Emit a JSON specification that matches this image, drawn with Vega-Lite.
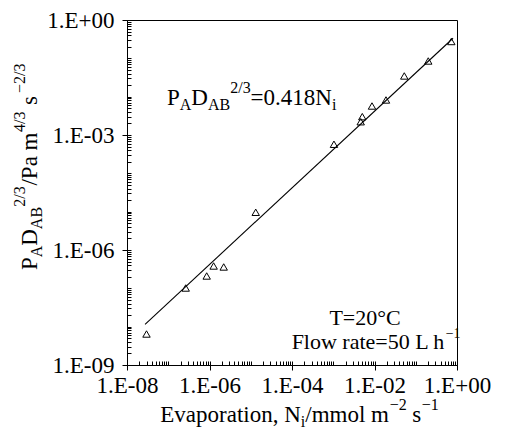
{
  "$schema": "https://vega.github.io/schema/vega-lite/v6.json",
  "width": 330,
  "height": 345,
  "autosize": {"type": "none"},
  "padding": {"left": 127, "top": 20, "right": 55, "bottom": 69},
  "background": "white",
  "config": {
    "view": {"stroke": "black", "strokeWidth": 1},
    "text": {"font": "Liberation Serif", "color": "black", "align": "left", "baseline": "alphabetic", "clip": false}
  },
  "datasets": {
    "points": [
      {"x": 2.97e-8, "y": 6.44e-9},
      {"x": 2.65e-7, "y": 1.02e-7},
      {"x": 8.55e-7, "y": 2.10e-7},
      {"x": 1.26e-6, "y": 3.83e-7},
      {"x": 2.21e-6, "y": 3.61e-7},
      {"x": 1.32e-5, "y": 9.64e-6},
      {"x": 1.04e-3, "y": 5.73e-4},
      {"x": 4.63e-3, "y": 2.22e-3},
      {"x": 5.06e-3, "y": 3.01e-3},
      {"x": 8.69e-3, "y": 5.71e-3},
      {"x": 1.90e-2, "y": 8.20e-3},
      {"x": 5.27e-2, "y": 3.47e-2},
      {"x": 0.201, "y": 8.53e-2},
      {"x": 0.728, "y": 0.275}
    ],
    "fit": [
      {"x": 2.74e-8, "y": 1.145e-8},
      {"x": 0.80, "y": 0.334}
    ],
    "ann": [
      {"id": "yt", "x": 6.7e-11, "y": 3.0e-7},
      {"id": "xt", "x": 6.4e-8, "y": 3.26e-11},
      {"id": "eq", "x": 9.33e-8, "y": 6.07e-3},
      {"id": "T", "x": 5.9e-3, "y": 1.11e-8},
      {"id": "flow", "x": 9.8e-5, "y": 2.61e-9}
    ]
  },
  "encoding": {
    "x": {"field": "x", "type": "quantitative", "scale": {"type": "log", "domain": [1e-8, 1], "nice": false}, "axis": null},
    "y": {"field": "y", "type": "quantitative", "scale": {"type": "log", "domain": [1e-9, 1], "nice": false}, "axis": null}
  },
  "layer": [
    {
      "data": {"name": "fit"},
      "mark": {"type": "line", "color": "black", "strokeWidth": 1.1},
      "encoding": {
        "x": {"field": "x", "type": "quantitative", "scale": {"type": "log", "domain": [1e-8, 1], "nice": false},
          "axis": {"orient": "bottom", "values": [1e-8,2e-8,3e-8,4e-8,5e-8,6e-8,7e-8,8e-8,9e-8,1e-7,2e-7,3e-7,4e-7,5e-7,6e-7,7e-7,8e-7,9e-7,1e-6,2e-6,3e-6,4e-6,5e-6,6e-6,7e-6,8e-6,9e-6,1e-5,2e-5,3e-5,4e-5,5e-5,6e-5,7e-5,8e-5,9e-5,1e-4,2e-4,3e-4,4e-4,5e-4,6e-4,7e-4,8e-4,9e-4,1e-3,2e-3,3e-3,4e-3,5e-3,6e-3,7e-3,8e-3,9e-3,1e-2,2e-2,3e-2,4e-2,5e-2,6e-2,7e-2,8e-2,9e-2,1e-1,2e-1,3e-1,4e-1,5e-1,6e-1,7e-1,8e-1,9e-1,1],
            "labels": false, "domain": false, "grid": false, "title": null, "tickSize": -4, "tickColor": "black", "tickWidth": 1}},
        "y": {"field": "y", "type": "quantitative", "scale": {"type": "log", "domain": [1e-9, 1], "nice": false},
          "axis": {"orient": "left", "values": [1e-9,2e-9,3e-9,4e-9,5e-9,6e-9,7e-9,8e-9,9e-9,1e-8,2e-8,3e-8,4e-8,5e-8,6e-8,7e-8,8e-8,9e-8,1e-7,2e-7,3e-7,4e-7,5e-7,6e-7,7e-7,8e-7,9e-7,1e-6,2e-6,3e-6,4e-6,5e-6,6e-6,7e-6,8e-6,9e-6,1e-5,2e-5,3e-5,4e-5,5e-5,6e-5,7e-5,8e-5,9e-5,1e-4,2e-4,3e-4,4e-4,5e-4,6e-4,7e-4,8e-4,9e-4,1e-3,2e-3,3e-3,4e-3,5e-3,6e-3,7e-3,8e-3,9e-3,1e-2,2e-2,3e-2,4e-2,5e-2,6e-2,7e-2,8e-2,9e-2,1e-1,2e-1,3e-1,4e-1,5e-1,6e-1,7e-1,8e-1,9e-1,1],
            "labels": false, "domain": false, "grid": false, "title": null, "tickSize": -4, "tickColor": "black", "tickWidth": 1}}
      }
    },
    {
      "data": {"name": "points"},
      "mark": {"type": "point", "shape": "triangle-up", "filled": false, "color": "black", "strokeWidth": 1, "size": 55, "opacity": 1},
      "encoding": {
        "x": {"field": "x", "type": "quantitative", "scale": {"type": "log", "domain": [1e-8, 1], "nice": false},
          "axis": {"orient": "bottom", "values": [1e-8, 1e-6, 1e-4, 1e-2, 1], "grid": false, "title": null, "domain": true, "domainColor": "black",
            "tickSize": 5, "tickColor": "black", "labelFont": "Liberation Serif", "labelFontSize": 23, "labelColor": "black", "labelPadding": 4, "labelDx": 17,
            "labelOverlap": false, "labelFlush": false,
            "labelExpr": "'1.E' + (round(log(datum.value)/LN10) < 0 ? '-' : '+') + (abs(round(log(datum.value)/LN10)) < 10 ? '0' : '') + abs(round(log(datum.value)/LN10))"}},
        "y": {"field": "y", "type": "quantitative", "scale": {"type": "log", "domain": [1e-9, 1], "nice": false},
          "axis": {"orient": "left", "values": [1e-9, 1e-6, 1e-3, 1], "grid": false, "title": null, "domain": true, "domainColor": "black",
            "tickSize": 5, "tickColor": "black", "labelFont": "Liberation Serif", "labelFontSize": 23, "labelColor": "black", "labelPadding": 8,
            "labelOverlap": false, "labelFlush": false,
            "labelExpr": "'1.E' + (round(log(datum.value)/LN10) < 0 ? '-' : '+') + (abs(round(log(datum.value)/LN10)) < 10 ? '0' : '') + abs(round(log(datum.value)/LN10))"}}
      }
    },
    {"data": {"name": "ann"}, "transform": [{"filter": "datum.id==='yt'"}], "mark": {"type": "text", "text": "P", "angle": 270, "dx": 0, "fontSize": 23}},
    {"data": {"name": "ann"}, "transform": [{"filter": "datum.id==='yt'"}], "mark": {"type": "text", "text": "A", "angle": 270, "dx": 12.8, "dy": 5, "fontSize": 16}},
    {"data": {"name": "ann"}, "transform": [{"filter": "datum.id==='yt'"}], "mark": {"type": "text", "text": "D", "angle": 270, "dx": 24.3, "fontSize": 23}},
    {"data": {"name": "ann"}, "transform": [{"filter": "datum.id==='yt'"}], "mark": {"type": "text", "text": "AB", "angle": 270, "dx": 40.9, "dy": 5, "fontSize": 16}},
    {"data": {"name": "ann"}, "transform": [{"filter": "datum.id==='yt'"}], "mark": {"type": "text", "text": "2/3", "angle": 270, "dx": 63.4, "dy": -12, "fontSize": 16}},
    {"data": {"name": "ann"}, "transform": [{"filter": "datum.id==='yt'"}], "mark": {"type": "text", "text": "/Pa m", "angle": 270, "dx": 84.5, "fontSize": 23}},
    {"data": {"name": "ann"}, "transform": [{"filter": "datum.id==='yt'"}], "mark": {"type": "text", "text": "4/3", "angle": 270, "dx": 138, "dy": -12, "fontSize": 16}},
    {"data": {"name": "ann"}, "transform": [{"filter": "datum.id==='yt'"}], "mark": {"type": "text", "text": "s", "angle": 270, "dx": 165, "fontSize": 23}},
    {"data": {"name": "ann"}, "transform": [{"filter": "datum.id==='yt'"}], "mark": {"type": "text", "text": "\u22122/3", "angle": 270, "dx": 177, "dy": -12, "fontSize": 16}},
    {"data": {"name": "ann"}, "transform": [{"filter": "datum.id==='xt'"}], "mark": {"type": "text", "text": "Evaporation, N", "dx": 0, "fontSize": 23}},
    {"data": {"name": "ann"}, "transform": [{"filter": "datum.id==='xt'"}], "mark": {"type": "text", "text": "i", "dx": 140.5, "dy": 5, "fontSize": 16}},
    {"data": {"name": "ann"}, "transform": [{"filter": "datum.id==='xt'"}], "mark": {"type": "text", "text": "/mmol m", "dx": 145, "fontSize": 23}},
    {"data": {"name": "ann"}, "transform": [{"filter": "datum.id==='xt'"}], "mark": {"type": "text", "text": "\u22122", "dx": 229.5, "dy": -12, "fontSize": 16}},
    {"data": {"name": "ann"}, "transform": [{"filter": "datum.id==='xt'"}], "mark": {"type": "text", "text": "s", "dx": 252, "fontSize": 23}},
    {"data": {"name": "ann"}, "transform": [{"filter": "datum.id==='xt'"}], "mark": {"type": "text", "text": "\u22121", "dx": 261.5, "dy": -12, "fontSize": 16}},
    {"data": {"name": "ann"}, "transform": [{"filter": "datum.id==='eq'"}], "mark": {"type": "text", "text": "P", "dx": 0, "fontSize": 23}},
    {"data": {"name": "ann"}, "transform": [{"filter": "datum.id==='eq'"}], "mark": {"type": "text", "text": "A", "dx": 12.8, "dy": 5, "fontSize": 16}},
    {"data": {"name": "ann"}, "transform": [{"filter": "datum.id==='eq'"}], "mark": {"type": "text", "text": "D", "dx": 24.3, "fontSize": 23}},
    {"data": {"name": "ann"}, "transform": [{"filter": "datum.id==='eq'"}], "mark": {"type": "text", "text": "AB", "dx": 40.9, "dy": 5, "fontSize": 16}},
    {"data": {"name": "ann"}, "transform": [{"filter": "datum.id==='eq'"}], "mark": {"type": "text", "text": "2/3", "dx": 63.2, "dy": -12, "fontSize": 16}},
    {"data": {"name": "ann"}, "transform": [{"filter": "datum.id==='eq'"}], "mark": {"type": "text", "text": "=0.418N", "dx": 83.6, "fontSize": 23}},
    {"data": {"name": "ann"}, "transform": [{"filter": "datum.id==='eq'"}], "mark": {"type": "text", "text": "i", "dx": 164.9, "dy": 5, "fontSize": 16}},
    {"data": {"name": "ann"}, "transform": [{"filter": "datum.id==='T'"}], "mark": {"type": "text", "text": "T=20\u00b0C", "align": "center", "fontSize": 22}},
    {"data": {"name": "ann"}, "transform": [{"filter": "datum.id==='flow'"}], "mark": {"type": "text", "text": "Flow rate=50 L h", "dx": 0, "fontSize": 22}},
    {"data": {"name": "ann"}, "transform": [{"filter": "datum.id==='flow'"}], "mark": {"type": "text", "text": "\u22121", "dx": 154, "dy": -11, "fontSize": 14}}
  ],
  "resolve": {"axis": {"x": "independent", "y": "independent"}}
}
